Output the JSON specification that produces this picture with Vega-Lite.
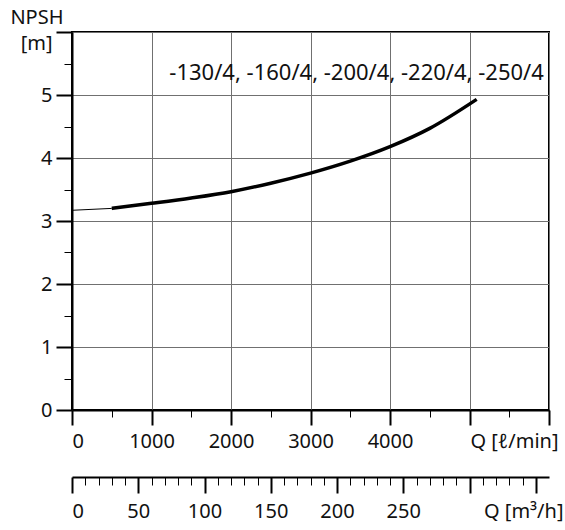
{
  "$schema": "https://vega.github.io/schema/vega-lite/v6.json",
  "width": 477,
  "height": 378,
  "autosize": {"type": "none"},
  "padding": {"left": 72, "top": 32, "right": 16, "bottom": 120},
  "background": "white",
  "config": {
    "font": "Noto Sans",
    "view": {"stroke": "black", "strokeWidth": 2},
    "axis": {
      "labelFont": "Noto Sans",
      "labelFontSize": 20,
      "labelColor": "#111111",
      "titleFont": "Noto Sans",
      "titleFontSize": 20,
      "titleFontWeight": "normal",
      "titleColor": "#111111",
      "domainColor": "black",
      "tickColor": "black",
      "gridColor": "#707070",
      "gridWidth": 1
    }
  },
  "data": {
    "values": [
      {"q": 0, "npsh": 3.17, "seg": "a"},
      {"q": 500, "npsh": 3.2, "seg": "a"},
      {"q": 500, "npsh": 3.2, "seg": "b"},
      {"q": 1000, "npsh": 3.28, "seg": "b"},
      {"q": 1500, "npsh": 3.365, "seg": "b"},
      {"q": 2000, "npsh": 3.465, "seg": "b"},
      {"q": 2500, "npsh": 3.6, "seg": "b"},
      {"q": 3000, "npsh": 3.76, "seg": "b"},
      {"q": 3500, "npsh": 3.95, "seg": "b"},
      {"q": 4000, "npsh": 4.18, "seg": "b"},
      {"q": 4500, "npsh": 4.47, "seg": "b"},
      {"q": 5090, "npsh": 4.93, "seg": "b"}
    ]
  },
  "resolve": {
    "scale": {"x": "independent", "y": "independent"},
    "axis": {"x": "independent", "y": "independent"}
  },
  "layer": [
    {
      "mark": {"type": "line", "color": "black", "interpolate": "monotone"},
      "encoding": {
        "x": {
          "field": "q",
          "type": "quantitative",
          "scale": {"domain": [0, 6000], "nice": false, "zero": false},
          "axis": {
            "orient": "bottom",
            "values": [0, 1000, 2000, 3000, 4000, 5000, 6000],
            "format": "d",
            "labelExpr": "datum.value >= 5000 ? '' : datum.label",
            "tickSize": 15,
            "tickWidth": 2,
            "domainWidth": 2,
            "labelPadding": 6,
            "grid": true,
            "title": "Q [ℓ/min]",
            "titleX": 486,
            "titleY": 21,
            "titleAlign": "right",
            "titleAnchor": null,
            "titleBaseline": "top"
          }
        },
        "y": {
          "field": "npsh",
          "type": "quantitative",
          "scale": {"domain": [0, 6], "nice": false, "zero": false},
          "axis": {
            "orient": "left",
            "values": [0, 1, 2, 3, 4, 5, 6],
            "labelExpr": "datum.value == 6 ? '[m]' : datum.label",
            "labelOffset": {"condition": {"test": "datum.value == 6", "value": 11}, "value": 0},
            "tickSize": 16,
            "tickWidth": 2,
            "domainWidth": 2,
            "labelPadding": 4,
            "grid": true,
            "title": "NPSH",
            "titleAngle": 0,
            "titleAlign": "right",
            "titleBaseline": "alphabetic",
            "titleX": -9,
            "titleY": -9
          }
        },
        "detail": {"field": "seg", "type": "nominal"},
        "strokeWidth": {
          "field": "seg",
          "type": "nominal",
          "scale": {"domain": ["a", "b"], "range": [1, 3.5]},
          "legend": null
        }
      }
    },
    {
      "data": {"values": [{"label": "-130/4, -160/4, -200/4, -220/4, -250/4"}]},
      "mark": {"type": "text", "align": "right", "baseline": "alphabetic", "fontSize": 22, "font": "Noto Sans", "color": "#111111"},
      "encoding": {
        "x": {"datum": 5935, "type": "quantitative", "scale": {"domain": [0, 6000], "nice": false, "zero": false}, "axis": null},
        "y": {"datum": 5.24, "type": "quantitative", "scale": {"domain": [0, 6], "nice": false, "zero": false}, "axis": null},
        "text": {"field": "label", "type": "nominal"}
      }
    },
    {
      "data": {"values": [{"k": 1}]},
      "mark": {"type": "point", "opacity": 0},
      "encoding": {
        "x": {
          "datum": 0,
          "type": "quantitative",
          "scale": {"domain": [0, 6000], "nice": false, "zero": false},
          "axis": {
            "orient": "bottom",
            "values": [500, 1500, 2500, 3500, 4500, 5500],
            "labels": false,
            "domain": false,
            "grid": false,
            "tickSize": 7,
            "tickWidth": 1,
            "title": null
          }
        }
      }
    },
    {
      "data": {"values": [{"k": 1}]},
      "mark": {"type": "point", "opacity": 0},
      "encoding": {
        "y": {
          "datum": 0,
          "type": "quantitative",
          "scale": {"domain": [0, 6], "nice": false, "zero": false},
          "axis": {
            "orient": "left",
            "values": [0.5, 1.5, 2.5, 3.5, 4.5, 5.5],
            "labels": false,
            "domain": false,
            "grid": false,
            "tickSize": 8,
            "tickWidth": 1,
            "title": null
          }
        }
      }
    },
    {
      "data": {"values": [{"k": 1}]},
      "mark": {"type": "point", "opacity": 0},
      "encoding": {
        "x": {
          "datum": 0,
          "type": "quantitative",
          "scale": {"domain": [0, 360], "nice": false, "zero": false},
          "axis": {
            "orient": "bottom",
            "offset": 67,
            "values": [0, 50, 100, 150, 200, 250, 300, 350],
            "format": "d",
            "labelExpr": "datum.value >= 300 ? '' : datum.label",
            "tickSize": 16,
            "tickWidth": 2,
            "domainWidth": 2,
            "labelPadding": 8,
            "grid": false,
            "title": "Q [m³/h]",
            "titleX": 491,
            "titleY": 24,
            "titleAlign": "right",
            "titleAnchor": null,
            "titleBaseline": "top"
          }
        }
      }
    },
    {
      "data": {"values": [{"k": 1}]},
      "mark": {"type": "point", "opacity": 0},
      "encoding": {
        "x": {
          "datum": 0,
          "type": "quantitative",
          "scale": {"domain": [0, 360], "nice": false, "zero": false},
          "axis": {
            "orient": "bottom",
            "offset": 67,
            "values": [10, 20, 30, 40, 60, 70, 80, 90, 110, 120, 130, 140, 160, 170, 180, 190, 210, 220, 230, 240, 260, 270, 280, 290, 310, 320, 330, 340],
            "labels": false,
            "domain": false,
            "grid": false,
            "tickSize": 8,
            "tickWidth": 1,
            "title": null
          }
        }
      }
    }
  ]
}
